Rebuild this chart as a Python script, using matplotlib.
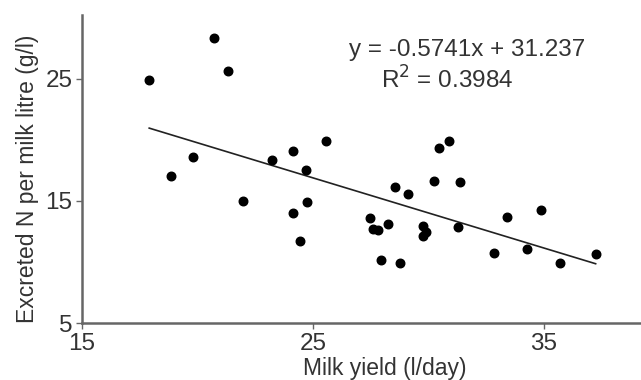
import numpy as np
import matplotlib
matplotlib.use('Agg')
import matplotlib.pyplot as plt

plt.rcParams['font.family'] = ['Liberation Sans', 'DejaVu Sans']

# milk yield (l/day) and excreted N per milk litre (g/l)
milk_yield = [17.91, 20.70, 21.31, 18.85, 19.82, 21.98, 23.21, 24.15, 24.12, 24.44,
              24.70, 24.73, 25.59, 27.47, 27.61, 27.81, 28.26, 27.94, 28.56, 28.77,
              29.10, 29.78, 29.92, 29.78, 30.25, 30.47, 30.89, 31.29, 31.36, 32.85,
              33.39, 34.28, 34.88, 35.69, 37.25]
excreted_n = [24.92, 28.34, 25.60, 17.07, 18.63, 15.00, 18.36, 19.10, 14.04, 11.72,
              17.54, 14.89, 19.86, 13.58, 12.68, 12.62, 13.09, 10.16, 16.12, 9.89,
              15.60, 12.95, 12.48, 12.13, 16.64, 19.32, 19.89, 12.89, 16.53, 10.71,
              13.66, 11.09, 14.24, 9.89, 10.66]

slope = -0.5741
intercept = 31.237
r2 = 0.3984

x_ticks = [15, 25, 35]
y_ticks = [5, 15, 25]

fig = plt.figure(figsize=(6.41, 3.80), dpi=100)
ax = fig.add_axes([0.128, 0.15, 0.870, 0.81])

ax.scatter(milk_yield, excreted_n, s=38, color='black', zorder=3)

xfit = np.array([min(milk_yield), max(milk_yield)])
ax.plot(xfit, slope * xfit + intercept, color='#222222', linewidth=1.2)

ax.set_xlim(15, 39.16)
ax.set_ylim(5, 30.2)
ax.set_xticks(x_ticks)
ax.set_yticks(y_ticks)

for side in ['top', 'right']:
    ax.spines[side].set_visible(False)
for side in ['left', 'bottom']:
    ax.spines[side].set_color('#666666')
    ax.spines[side].set_linewidth(1.8)

ax.tick_params(axis='both', length=4, width=1, color='#666666', labelsize=17.5,
               labelcolor='#333333', pad=3)

ax.set_xlabel('Milk yield (l/day)', fontsize=16.5, color='#333333')
ax.set_ylabel('Excreted N per milk litre (g/l)', fontsize=16.5, color='#333333')
ax.xaxis.set_label_coords(0.543, -0.11)
ax.yaxis.set_label_coords(-0.078, 0.47)

ax.text(0.69, 0.887, 'y = -0.5741x + 31.237', transform=ax.transAxes,
        ha='center', va='center', fontsize=17.5, color='#333333')
ax.text(0.655, 0.79, 'R$^2$ = 0.3984', transform=ax.transAxes,
        ha='center', va='center', fontsize=17.5, color='#333333')

fig.savefig('out.png', dpi=100)
